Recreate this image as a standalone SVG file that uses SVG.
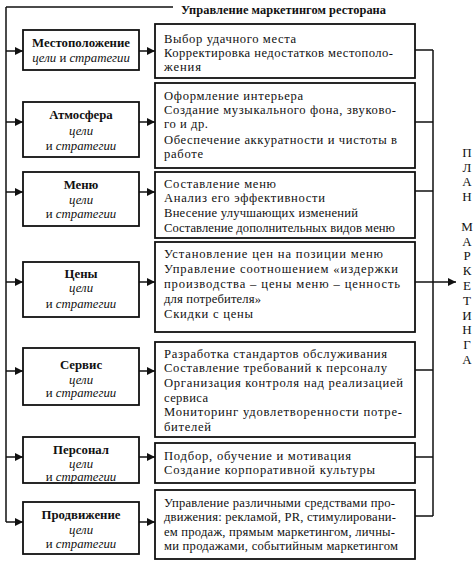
<svg xmlns="http://www.w3.org/2000/svg" width="475" height="566" viewBox="0 0 475 566">
<defs>
<marker id="ah" viewBox="0 0 10 10" refX="10" refY="5" markerWidth="10" markerHeight="8" markerUnits="userSpaceOnUse" orient="auto">
<path d="M0,0 L10,5 L0,10 z" fill="#111"/>
</marker>
</defs>
<style>
.box{fill:#fff;stroke:#111;stroke-width:1.8}
.ln{fill:none;stroke:#111;stroke-width:1.5}
.ar{fill:none;stroke:#111;stroke-width:1.5;marker-end:url(#ah)}
.t{font-family:"Liberation Serif","Times New Roman",serif;font-size:12.6px;fill:#111}
.h{font-family:"Liberation Serif","Times New Roman",serif;font-size:12.8px;font-weight:bold;fill:#111;text-anchor:middle}
.s{font-family:"Liberation Serif","Times New Roman",serif;font-size:12.8px;fill:#111;text-anchor:middle}
.i{font-style:italic}
.title{font-family:"Liberation Serif","Times New Roman",serif;font-size:12.4px;font-weight:bold;fill:#111}
.v{font-family:"Liberation Serif","Times New Roman",serif;font-size:13px;fill:#111;text-anchor:middle}
</style>
<rect width="475" height="566" fill="#fff"/>

<g id="connectors">
<path class="ln" d="M6,7 H173 M6,7 V522"/>
<path class="ar" d="M6,51 H23"/>
<path class="ar" d="M6,122 H23"/>
<path class="ar" d="M6,192 H23"/>
<path class="ar" d="M6,282 H23"/>
<path class="ar" d="M6,371 H23"/>
<path class="ar" d="M6,457 H23"/>
<path class="ar" d="M6,522 H23"/>
<path class="ar" d="M139,51 H155"/>
<path class="ar" d="M139,122 H155"/>
<path class="ar" d="M139,192 H155"/>
<path class="ar" d="M139,282 H155"/>
<path class="ar" d="M139,371 H155"/>
<path class="ar" d="M139,457 H155"/>
<path class="ar" d="M139,522 H155"/>
<path class="ln" d="M433,50 V516 M415,50 H433 M415,122 H433 M415,191 H433 M415,370 H433 M415,457 H433 M415,516 H433"/>
<path class="ar" d="M415,282 H456"/>
</g>

<g id="title"><text class="title" x="181" y="14" textLength="205" lengthAdjust="spacing">Управление маркетингом ресторана</text></g>

<g id="n-mesto">
<rect class="box" x="23" y="30" width="116" height="40"/>
<text class="h" x="81" y="47">Местоположение</text>
<text class="s" x="81" y="62"><tspan class="i">цели</tspan> и <tspan class="i">стратегии</tspan></text>
</g>
<g id="n-mesto-d">
<rect class="box" x="155" y="24" width="260" height="54"/>
<text class="t" x="164" y="43" textLength="132" lengthAdjust="spacing">Выбор удачного места</text>
<text class="t" x="164" y="57" textLength="229" lengthAdjust="spacing">Корректировка недостатков местополо-</text>
<text class="t" x="164" y="71" textLength="37" lengthAdjust="spacing">жения</text>
</g>

<g id="n-atm">
<rect class="box" x="23" y="102" width="116" height="55"/>
<text class="h" x="81" y="119">Атмосфера</text>
<text class="s i" x="81" y="135">цели</text>
<text class="s" x="81" y="150">и <tspan class="i">стратегии</tspan></text>
</g>
<g id="n-atm-d">
<rect class="box" x="155" y="83" width="260" height="85"/>
<text class="t" x="164" y="100" textLength="139" lengthAdjust="spacing">Оформление интерьера</text>
<text class="t" x="164" y="114" textLength="232" lengthAdjust="spacing">Создание музыкального фона, звуково-</text>
<text class="t" x="164" y="128" textLength="44" lengthAdjust="spacing">го и др.</text>
<text class="t" x="164" y="144" textLength="233" lengthAdjust="spacing">Обеспечение аккуратности и чистоты в</text>
<text class="t" x="164" y="158" textLength="39" lengthAdjust="spacing">работе</text>
</g>

<g id="n-menu">
<rect class="box" x="23" y="172" width="116" height="54"/>
<text class="h" x="81" y="189">Меню</text>
<text class="s i" x="81" y="204">цели</text>
<text class="s" x="81" y="218">и <tspan class="i">стратегии</tspan></text>
</g>
<g id="n-menu-d">
<rect class="box" x="155" y="172" width="260" height="66"/>
<text class="t" x="164" y="188" textLength="112" lengthAdjust="spacing">Составление меню</text>
<text class="t" x="164" y="202" textLength="161" lengthAdjust="spacing">Анализ его эффективности</text>
<text class="t" x="164" y="217" textLength="194" lengthAdjust="spacing">Внесение улучшающих изменений</text>
<text class="t" x="164" y="232" textLength="231" lengthAdjust="spacing">Составление дополнительных видов меню</text>
</g>

<g id="n-price">
<rect class="box" x="23" y="262" width="116" height="55"/>
<text class="h" x="81" y="278">Цены</text>
<text class="s i" x="81" y="292">цели</text>
<text class="s" x="81" y="308">и <tspan class="i">стратегии</tspan></text>
</g>
<g id="n-price-d">
<rect class="box" x="155" y="242" width="260" height="90"/>
<text class="t" x="164" y="258" textLength="219" lengthAdjust="spacing">Установление цен на позиции меню</text>
<text class="t" x="164" y="273" textLength="234" lengthAdjust="spacing">Управление соотношением «издержки</text>
<text class="t" x="164" y="288" textLength="236" lengthAdjust="spacing">производства – цены меню – ценность</text>
<text class="t" x="164" y="303" textLength="97" lengthAdjust="spacing">для потребителя»</text>
<text class="t" x="164" y="318" textLength="89" lengthAdjust="spacing">Скидки с цены</text>
</g>

<g id="n-serv">
<rect class="box" x="23" y="348" width="116" height="57"/>
<text class="h" x="81" y="369">Сервис</text>
<text class="s i" x="81" y="384">цели</text>
<text class="s" x="81" y="397">и <tspan class="i">стратегии</tspan></text>
</g>
<g id="n-serv-d">
<rect class="box" x="155" y="342" width="260" height="95"/>
<text class="t" x="164" y="358" textLength="223" lengthAdjust="spacing">Разработка стандартов обслуживания</text>
<text class="t" x="164" y="372" textLength="223" lengthAdjust="spacing">Составление требований к персоналу</text>
<text class="t" x="164" y="387" textLength="239" lengthAdjust="spacing">Организация контроля над реализацией</text>
<text class="t" x="164" y="402" textLength="44" lengthAdjust="spacing">сервиса</text>
<text class="t" x="164" y="416" textLength="238" lengthAdjust="spacing">Мониторинг удовлетворенности потре-</text>
<text class="t" x="164" y="431" textLength="47" lengthAdjust="spacing">бителей</text>
</g>

<g id="n-pers">
<rect class="box" x="23" y="437" width="116" height="46"/>
<text class="h" x="81" y="454">Персонал</text>
<text class="s i" x="81" y="468">цели</text>
<text class="s" x="81" y="481">и <tspan class="i">стратегии</tspan></text>
</g>
<g id="n-pers-d">
<rect class="box" x="155" y="443" width="260" height="40"/>
<text class="t" x="164" y="460" textLength="187" lengthAdjust="spacing">Подбор, обучение и мотивация</text>
<text class="t" x="164" y="474" textLength="211" lengthAdjust="spacing">Создание корпоративной культуры</text>
</g>

<g id="n-prom">
<rect class="box" x="23" y="502" width="116" height="52"/>
<text class="h" x="81" y="519">Продвижение</text>
<text class="s i" x="81" y="534">цели</text>
<text class="s" x="81" y="548">и <tspan class="i">стратегии</tspan></text>
</g>
<g id="n-prom-d">
<rect class="box" x="155" y="490" width="260" height="69"/>
<text class="t" x="164" y="507" textLength="231" lengthAdjust="spacing">Управление различными средствами про-</text>
<text class="t" x="164" y="521" textLength="232" lengthAdjust="spacing">движения: рекламой, PR, стимулировани-</text>
<text class="t" x="164" y="536" textLength="231" lengthAdjust="spacing">ем продаж, прямым маркетингом, личны-</text>
<text class="t" x="164" y="550" textLength="234" lengthAdjust="spacing">ми продажами, событийным маркетингом</text>
</g>

<g id="plan">
<text class="v" x="467" y="157">П</text>
<text class="v" x="467" y="172">Л</text>
<text class="v" x="467" y="186">А</text>
<text class="v" x="467" y="201">Н</text>
<text class="v" x="467" y="231">М</text>
<text class="v" x="467" y="246">А</text>
<text class="v" x="467" y="260">Р</text>
<text class="v" x="467" y="275">К</text>
<text class="v" x="467" y="290">Е</text>
<text class="v" x="467" y="305">Т</text>
<text class="v" x="467" y="320">И</text>
<text class="v" x="467" y="334">Н</text>
<text class="v" x="467" y="349">Г</text>
<text class="v" x="467" y="364">А</text>
</g>
</svg>
